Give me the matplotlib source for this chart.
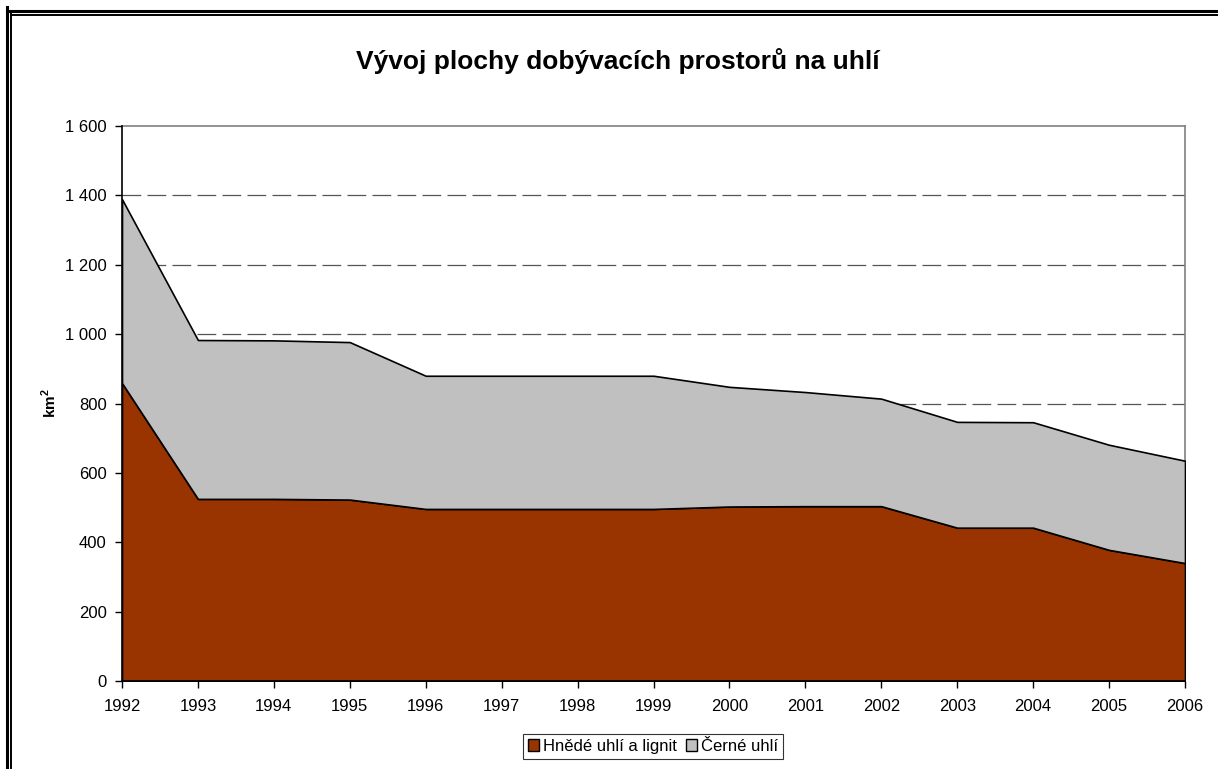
import matplotlib
matplotlib.use("Agg")
import matplotlib.pyplot as plt
from matplotlib.lines import Line2D
from matplotlib.patches import Patch

plt.rcParams['font.family'] = ['Liberation Sans', 'DejaVu Sans']

years = [1992, 1993, 1994, 1995, 1996, 1997, 1998, 1999, 2000, 2001, 2002, 2003, 2004, 2005, 2006]
hnede = [859, 525, 525, 523, 496, 496, 496, 496, 503, 504, 504, 442, 442, 378, 340]
celkem = [1389, 983, 982, 977, 880, 880, 880, 880, 848, 833, 814, 747, 746, 681, 635]
cerne = [t - h for t, h in zip(celkem, hnede)]
series_names = ["Hnědé uhlí a lignit", "Černé uhlí"]
colors = ["#993300", "#C0C0C0"]
yticks = [0, 200, 400, 600, 800, 1000, 1200, 1400, 1600]
ytick_labels = ["0", "200", "400", "600", "800", "1 000", "1 200", "1 400", "1 600"]

fig = plt.figure(figsize=(12.18, 7.69), dpi=100)
ax = fig.add_axes([122/1218, 88/769, (1185-122)/1218, (681-126)/769])

ax.stackplot(years, hnede, cerne, colors=colors, edgecolor="black", linewidth=1.2, zorder=3)

ax.set_xlim(years[0], years[-1])
ax.set_ylim(0, 1600)
ax.set_xticks(years)
ax.set_xticklabels([str(y) for y in years], fontsize=12)
ax.set_yticks(yticks)
ax.set_yticklabels(ytick_labels, fontsize=12)
ax.tick_params(axis='both', direction='out', length=5, width=1, color='black')
ax.tick_params(axis='y', pad=6)
ax.tick_params(axis='x', pad=8)

for v in yticks[1:-1]:
    ax.axhline(v, color="#555555", linewidth=0.9, dashes=(15, 5), zorder=1)

for side in ['top', 'right']:
    ax.spines[side].set_color('#808080')
    ax.spines[side].set_linewidth(1.2)
for side in ['left', 'bottom']:
    ax.spines[side].set_color('black')
    ax.spines[side].set_linewidth(1.2)
    ax.spines[side].set_zorder(5)

ax.set_ylabel("km$^\\mathregular{2}$", fontsize=11, fontweight='bold', labelpad=4)

fig.text(618/1218, 1 - 61/769, "Vývoj plochy dobývacích prostorů na uhlí",
         ha='center', va='center', fontsize=19, fontweight='bold')

handles = [Patch(facecolor=c, edgecolor='black', linewidth=1) for c in colors]
leg = fig.legend(handles, series_names, loc='center', bbox_to_anchor=(653/1218, 1 - 746.5/769),
                 ncol=2, fontsize=12, frameon=True, fancybox=False, edgecolor='black',
                 handlelength=0.7, handleheight=0.7, handletextpad=0.25, columnspacing=0.5,
                 borderpad=0.3, borderaxespad=0)
leg.get_frame().set_linewidth(0.8)

# double frame around the chart (left and top visible)
for off, lw in [(7, 2.2), (11, 1.4)]:
    fig.add_artist(Line2D([off/1218, off/1218], [0, 1 - off/769], color='black', linewidth=lw,
                          transform=fig.transFigure))
    fig.add_artist(Line2D([off/1218, 1], [1 - (off+4)/769, 1 - (off+4)/769], color='black', linewidth=lw,
                          transform=fig.transFigure))

fig.savefig("out.png", dpi=100)
